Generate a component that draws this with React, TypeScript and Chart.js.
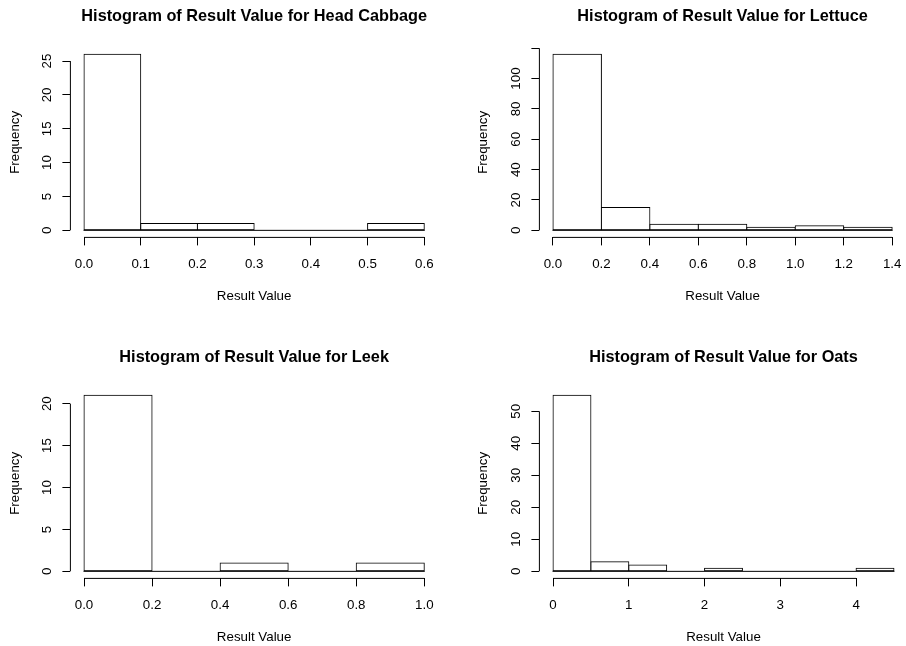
import React, { useEffect, useRef } from "react";
import { Chart, registerables } from "chart.js";

Chart.register(...registerables);

const FONT = '"Liberation Sans", Arial, Helvetica, sans-serif';
const AXIS_SIZE = 13.33;
const TITLE_SIZE = 16.3;

// ---- Head Cabbage ----
const cabbageBreaks = [0, 0.1, 0.2, 0.3, 0.4, 0.5, 0.6];
const cabbageCounts = [26, 1, 1, 0, 0, 1];
const cabbageXTicks = [0, 0.1, 0.2, 0.3, 0.4, 0.5, 0.6];
const cabbageXLabels = ["0.0", "0.1", "0.2", "0.3", "0.4", "0.5", "0.6"];
const cabbageYTicks = [0, 5, 10, 15, 20, 25];
const cabbageYLabels = ["0", "5", "10", "15", "20", "25"];

// ---- Lettuce ----
const lettuceBreaks = [0, 0.2, 0.4, 0.6, 0.8, 1.0, 1.2, 1.4];
const lettuceCounts = [116, 15, 4, 4, 2, 3, 2];
const lettuceXTicks = [0, 0.2, 0.4, 0.6, 0.8, 1.0, 1.2, 1.4];
const lettuceXLabels = ["0.0", "0.2", "0.4", "0.6", "0.8", "1.0", "1.2", "1.4"];
const lettuceYTicks = [0, 20, 40, 60, 80, 100, 120];
const lettuceYLabels = ["0", "20", "40", "60", "80", "100", ""];

// ---- Leek ----
const leekBreaks = [0, 0.2, 0.4, 0.6, 0.8, 1.0];
const leekCounts = [21, 0, 1, 0, 1];
const leekXTicks = [0, 0.2, 0.4, 0.6, 0.8, 1.0];
const leekXLabels = ["0.0", "0.2", "0.4", "0.6", "0.8", "1.0"];
const leekYTicks = [0, 5, 10, 15, 20];
const leekYLabels = ["0", "5", "10", "15", "20"];

// ---- Oats ----
const oatsBreaks = [0, 0.5, 1.0, 1.5, 2.0, 2.5, 3.0, 3.5, 4.0, 4.5];
const oatsCounts = [55, 3, 2, 0, 1, 0, 0, 0, 1];
const oatsXTicks = [0, 1, 2, 3, 4];
const oatsXLabels = ["0", "1", "2", "3", "4"];
const oatsYTicks = [0, 10, 20, 30, 40, 50];
const oatsYLabels = ["0", "10", "20", "30", "40", "50"];

type Panel = {
  key: string;
  title: string;
  breaks: number[];
  counts: number[];
  xTicks: number[];
  xLabels: string[];
  yTicks: number[];
  yLabels: string[];
  left: number;
  top: number;
  width: number;
  plotLeft: number;
  plotRight: number;
  freqPad: number;
};

const PANEL_H = 323;
const PLOT_TOP = 47.2;
const PLOT_BOTTOM = 237.4;
const TITLE_MID = 16.5;
const XLABEL_MID = 264.7;
const XTITLE_MID = 296.3;
const TICK_LEN = 8;
const YLABEL_DIST = 23;

const panels: Panel[] = [
  {
    key: "cabbage",
    title: "Histogram of Result Value for Head Cabbage",
    breaks: cabbageBreaks, counts: cabbageCounts,
    xTicks: cabbageXTicks, xLabels: cabbageXLabels,
    yTicks: cabbageYTicks, yLabels: cabbageYLabels,
    left: 0, top: 0, width: 453, plotLeft: 70.4, plotRight: 437.9, freqPad: 7.5,
  },
  {
    key: "lettuce",
    title: "Histogram of Result Value for Lettuce",
    breaks: lettuceBreaks, counts: lettuceCounts,
    xTicks: lettuceXTicks, xLabels: lettuceXLabels,
    yTicks: lettuceYTicks, yLabels: lettuceYLabels,
    left: 453, top: 0, width: 460, plotLeft: 86.4, plotRight: 454.6, freqPad: 22.5,
  },
  {
    key: "leek",
    title: "Histogram of Result Value for Leek",
    breaks: leekBreaks, counts: leekCounts,
    xTicks: leekXTicks, xLabels: leekXLabels,
    yTicks: leekYTicks, yLabels: leekYLabels,
    left: 0, top: 341, width: 453, plotLeft: 70.4, plotRight: 437.9, freqPad: 7.5,
  },
  {
    key: "oats",
    title: "Histogram of Result Value for Oats",
    breaks: oatsBreaks, counts: oatsCounts,
    xTicks: oatsXTicks, xLabels: oatsXLabels,
    yTicks: oatsYTicks, yLabels: oatsYLabels,
    left: 453, top: 341, width: 460, plotLeft: 86.4, plotRight: 454.6, freqPad: 22.5,
  },
];

function widestLabel(labels: string[], size: number): number {
  const c = document.createElement("canvas");
  const ctx = c.getContext("2d")!;
  ctx.font = `${size}px ${FONT}`;
  let w = 0;
  for (const l of labels) w = Math.max(w, ctx.measureText(l).width);
  return w;
}

function makeConfig(p: Panel): any {
  const xMin = p.breaks[0];
  const xMax = p.breaks[p.breaks.length - 1];
  const xr = xMax - xMin;
  const yMaxC = Math.max(...p.counts);
  const points = p.counts.map((c, i) => ({ x: (p.breaks[i] + p.breaks[i + 1]) / 2, y: c }));
  const widest = widestLabel(p.yLabels, AXIS_SIZE);
  const axisLine = AXIS_SIZE * 1.2;
  const titleLine = TITLE_SIZE * 1.2;
  const titlePadTop = TITLE_MID - titleLine / 2;
  const titlePadBottom = PLOT_TOP - titlePadTop - titleLine;
  const xScaleBottom = XTITLE_MID + axisLine / 2;
  const xScaleHeight = xScaleBottom - PLOT_BOTTOM;

  const rAxes = {
    id: "rAxes_" + p.key,
    afterDatasetsDraw(chart: any) {
      const { ctx, chartArea } = chart;
      const xs = chart.scales.x;
      const ys = chart.scales.y;
      ctx.save();
      ctx.strokeStyle = "#000";
      ctx.lineWidth = 1;
      // baseline of histogram (zero-height bins)
      const y0 = ys.getPixelForValue(0);
      ctx.beginPath();
      ctx.moveTo(xs.getPixelForValue(xMin) - 0.5, y0);
      ctx.lineTo(xs.getPixelForValue(xMax) + 0.5, y0);
      ctx.stroke();
      // x axis line from first to last tick
      ctx.beginPath();
      ctx.moveTo(xs.getPixelForValue(p.xTicks[0]), chartArea.bottom);
      ctx.lineTo(xs.getPixelForValue(p.xTicks[p.xTicks.length - 1]), chartArea.bottom);
      ctx.stroke();
      // y axis line from first to last tick
      ctx.beginPath();
      ctx.moveTo(chartArea.left, ys.getPixelForValue(p.yTicks[0]));
      ctx.lineTo(chartArea.left, ys.getPixelForValue(p.yTicks[p.yTicks.length - 1]));
      ctx.stroke();
      ctx.restore();
    },
  };

  return {
    type: "bar",
    data: {
      datasets: [
        {
          data: points,
          backgroundColor: "#ffffff",
          borderColor: "#000000",
          borderWidth: 1,
          borderSkipped: false,
          inflateAmount: 0.5,
          barPercentage: 1,
          categoryPercentage: 1,
        },
      ],
    },
    options: {
      responsive: false,
      animation: false,
      events: [],
      layout: {
        padding: { left: 0, top: 0, right: p.width - p.plotRight, bottom: PANEL_H - xScaleBottom },
      },
      plugins: {
        legend: { display: false },
        tooltip: { enabled: false },
        title: {
          display: true,
          text: p.title,
          fullSize: false,
          color: "#000",
          font: { family: FONT, size: TITLE_SIZE, weight: "bold", lineHeight: 1.2 },
          padding: { top: titlePadTop, bottom: titlePadBottom },
        },
      },
      scales: {
        x: {
          type: "linear",
          position: "bottom",
          bounds: "data",
          offset: false,
          min: xMin - 0.04 * xr,
          max: xMax + 0.04 * xr,
          afterBuildTicks: (s: any) => {
            s.ticks = p.xTicks.map((v) => ({ value: v }));
          },
          afterFit: (s: any) => {
            s.height = xScaleHeight;
          },
          grid: {
            display: true,
            offset: false,
            drawOnChartArea: false,
            drawTicks: true,
            tickLength: TICK_LEN,
            color: "#000",
            tickColor: "#000",
            tickWidth: 1,
          },
          border: { display: false },
          ticks: {
            autoSkip: false,
            minRotation: 0,
            maxRotation: 0,
            padding: XLABEL_MID - PLOT_BOTTOM - TICK_LEN - axisLine / 2,
            color: "#000",
            font: { family: FONT, size: AXIS_SIZE },
            callback: (_v: any, i: number) => p.xLabels[i],
          },
          title: {
            display: true,
            text: "Result Value",
            color: "#000",
            font: { family: FONT, size: AXIS_SIZE, lineHeight: 1.2 },
            padding: { top: 0, bottom: 0 },
          },
        },
        y: {
          type: "linear",
          position: "left",
          bounds: "data",
          offset: false,
          min: -0.04 * yMaxC,
          max: 1.04 * yMaxC,
          afterBuildTicks: (s: any) => {
            s.ticks = p.yTicks.map((v) => ({ value: v }));
          },
          afterFit: (s: any) => {
            s.width = p.plotLeft;
          },
          grid: {
            display: true,
            offset: false,
            drawOnChartArea: false,
            drawTicks: true,
            tickLength: TICK_LEN,
            color: "#000",
            tickColor: "#000",
            tickWidth: 1,
          },
          border: { display: false },
          ticks: {
            autoSkip: false,
            minRotation: 90,
            maxRotation: 90,
            crossAlign: "center",
            padding: YLABEL_DIST - TICK_LEN - widest / 2,
            color: "#000",
            font: { family: FONT, size: AXIS_SIZE },
            callback: (_v: any, i: number) => p.yLabels[i],
          },
          title: {
            display: true,
            text: "Frequency",
            color: "#000",
            font: { family: FONT, size: AXIS_SIZE, lineHeight: 1.2 },
            padding: { top: p.freqPad, bottom: 0 },
          },
        },
      },
    },
    plugins: [rAxes],
  };
}

function PanelChart({ p }: { p: Panel }) {
  const ref = useRef<HTMLCanvasElement | null>(null);
  useEffect(() => {
    if (!ref.current) return;
    const chart = new Chart(ref.current, makeConfig(p));
    return () => chart.destroy();
  }, [p]);
  return (
    <div style={{ position: "absolute", left: p.left, top: p.top, width: p.width, height: PANEL_H }}>
      <canvas ref={ref} width={p.width} height={PANEL_H} style={{ display: "block" }} />
    </div>
  );
}

export default function App() {
  return (
    <div
      style={{
        position: "absolute",
        left: 0,
        top: 0,
        width: 906,
        height: 646,
        overflow: "hidden",
        background: "#ffffff",
      }}
    >
      {panels.map((p) => (
        <PanelChart key={p.key} p={p} />
      ))}
    </div>
  );
}
